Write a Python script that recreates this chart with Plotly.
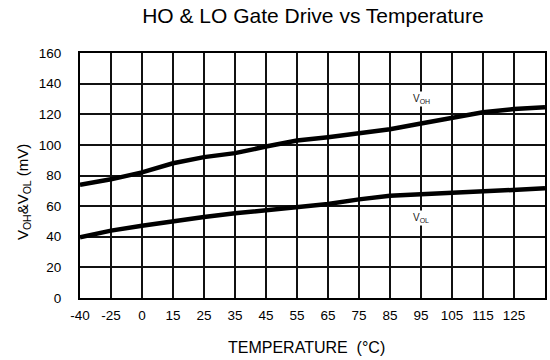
import plotly.graph_objects as go

temps = ["-40", "-25", "0", "15", "25", "35", "45", "55", "65", "75", "85", "95", "105", "115", "125", ""]
positions = list(range(len(temps)))
voh = [74, 77.5, 82, 88, 92, 94.6, 98.9, 102.8, 105, 107.6, 110.2, 114, 117.8, 121.3, 123.4, 124.5]
vol = [39.6, 44, 47.2, 50.3, 52.9, 55.3, 57.4, 59.2, 61.4, 64.4, 66.8, 67.7, 68.8, 69.9, 70.8, 71.6]
y_ticks = [0, 20, 40, 60, 80, 100, 120, 140, 160]

FONT = "Liberation Sans, Arial, sans-serif"

fig = go.Figure()
fig.add_trace(go.Scatter(x=positions, y=voh, mode="lines",
                         line=dict(color="black", width=4.5), showlegend=False))
fig.add_trace(go.Scatter(x=positions, y=vol, mode="lines",
                         line=dict(color="black", width=4.5), showlegend=False))

fig.add_annotation(x=11, y=130, text="V<sub>OH</sub>", showarrow=False,
                   bgcolor="white", font=dict(size=10, color="#222", family=FONT))
fig.add_annotation(x=11, y=52.5, text="V<sub>OL</sub>", showarrow=False,
                   bgcolor="white", font=dict(size=10, color="#222", family=FONT))

# axis titles
fig.add_annotation(xref="paper", yref="paper", x=0.488, y=-0.2, xanchor="center", yanchor="middle",
                   text="TEMPERATURE  (°C)", showarrow=False,
                   font=dict(size=16, color="black", family=FONT))
fig.add_annotation(xref="paper", yref="paper", x=-0.12, y=0.433, xanchor="center", yanchor="middle",
                   text="V<sub>OH</sub>&V<sub>OL</sub> (mV)", showarrow=False, textangle=-90,
                   font=dict(size=15, color="black", family=FONT))

fig.update_layout(
    width=550, height=360,
    margin=dict(l=80, r=3, t=53, b=62),
    paper_bgcolor="white", plot_bgcolor="white",
    font=dict(family=FONT, color="black", size=13),
    title=dict(text="HO & LO Gate Drive vs Temperature", x=0.569, xanchor="center",
               y=0.957, yanchor="middle", font=dict(size=21, family=FONT, color="black")),
)
fig.update_xaxes(range=[0, 15], tickmode="array", tickvals=positions, ticktext=temps,
                 showgrid=True, gridcolor="#111", gridwidth=1.5, zeroline=False,
                 showline=True, mirror=True, linecolor="black", linewidth=2,
                 ticks="", ticklabelstandoff=4, tickfont=dict(size=13.5))
fig.update_yaxes(range=[0, 160], tickmode="array", tickvals=y_ticks,
                 showgrid=True, gridcolor="#111", gridwidth=1.5, zeroline=False,
                 showline=True, mirror=True, linecolor="black", linewidth=2,
                 ticks="", ticklabelstandoff=14, tickfont=dict(size=13.5))

fig.write_html("out.html")
